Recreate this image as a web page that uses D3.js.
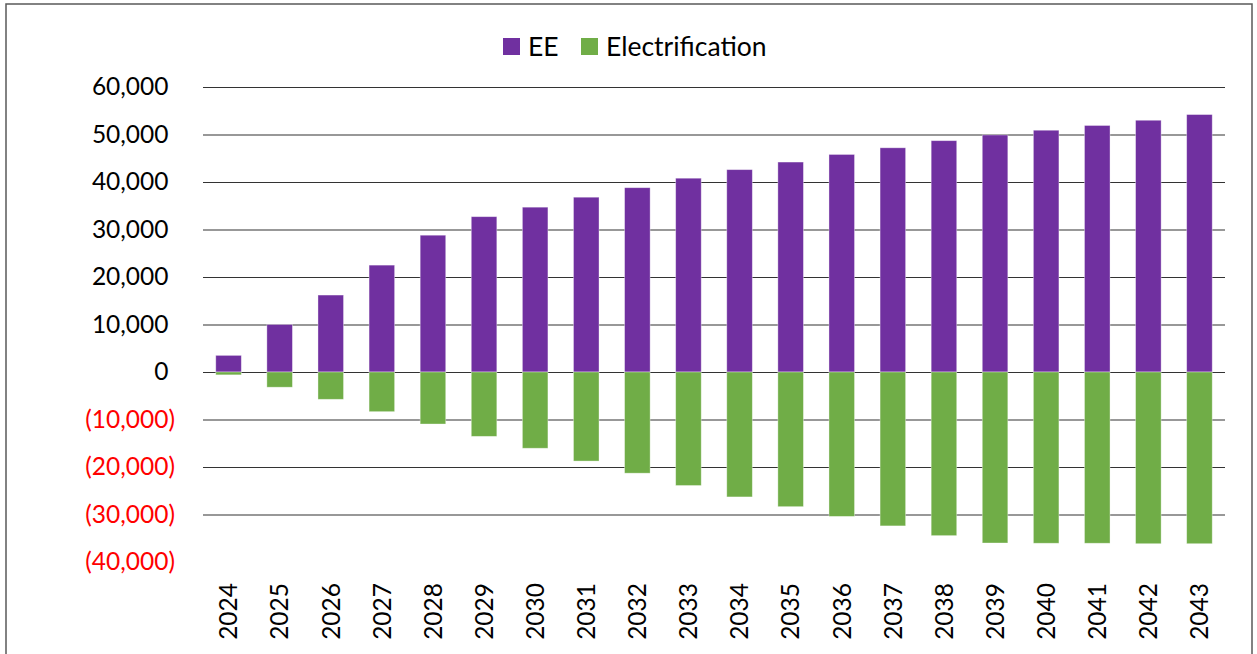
<!DOCTYPE html>
<html>
<head>
<meta charset="utf-8">
<script src="https://cdn.jsdelivr.net/npm/d3@7/dist/d3.min.js"></script>
<style>
html,body{margin:0;padding:0;background:#fff;}
svg{display:block;font-family:Lato,"Open Sans",sans-serif;}
</style>
</head>
<body>
<svg id="chart" width="1257" height="654"></svg>
<script>
const years = ["2024","2025","2026","2027","2028","2029","2030","2031","2032","2033","2034","2035","2036","2037","2038","2039","2040","2041","2042","2043"];
const eeValues = [3500,10000,16200,22500,28800,32700,34700,36800,38800,40800,42600,44200,45800,47200,48700,49900,50900,51900,53000,54200];
const electrificationValues = [-600,-3200,-5750,-8350,-10950,-13550,-16050,-18750,-21300,-23900,-26300,-28350,-30400,-32400,-34450,-36000,-36050,-36050,-36150,-36150];
const yTicks = [60000,50000,40000,30000,20000,10000,0,-10000,-20000,-30000,-40000];
const seriesNames = ["EE","Electrification"];
const seriesColors = ["#7030A0","#70AD47"];

(function(){
const svg = d3.select("#chart");
const pLeft = 203, pRight = 1225, pTop = 87, pBottom = 562;

// frame
svg.append("rect").attr("x",6).attr("y",4).attr("width",1246).attr("height",660)
  .attr("fill","none").attr("stroke","#595959").attr("stroke-width",1.5);

const x = d3.scaleBand().domain(years).range([pLeft,pRight]).paddingInner(0.5).paddingOuter(0.25);
const y = d3.scaleLinear().domain([-40000,60000]).range([pBottom,pTop]);

// y axis with gridlines
const fmt = v => v < 0 ? "(" + d3.format(",")(-v) + ")" : d3.format(",")(v);
const yAxis = svg.append("g").attr("transform",`translate(${pLeft},0)`)
  .call(d3.axisLeft(y).tickValues(yTicks).tickSize(-(pRight-pLeft)).tickPadding(28).tickFormat(fmt));
yAxis.select(".domain").remove();
yAxis.selectAll(".tick line").attr("stroke","#333").attr("stroke-width",1.2)
  .attr("opacity", d => d === -40000 ? 0 : 1);
yAxis.selectAll(".tick text")
  .attr("font-size",24.5).attr("font-family","Lato")
  .attr("fill", d => d < 0 ? "#FF0000" : "#000")
  .attr("dx", d => d < 0 ? 0 : -6.5);

// bars
const g = svg.append("g");
g.selectAll("rect.ee").data(years).enter().append("rect").attr("class","ee")
  .attr("x", d => x(d)).attr("width", x.bandwidth())
  .attr("y", (d,i) => y(eeValues[i])).attr("height", (d,i) => y(0) - y(eeValues[i]))
  .attr("fill", seriesColors[0]).attr("stroke","#fff").attr("stroke-opacity",0.45).attr("stroke-width",0.8);
g.selectAll("rect.el").data(years).enter().append("rect").attr("class","el")
  .attr("x", d => x(d)).attr("width", x.bandwidth())
  .attr("y", y(0)).attr("height", (d,i) => y(electrificationValues[i]) - y(0))
  .attr("fill", seriesColors[1]).attr("stroke","#fff").attr("stroke-opacity",0.45).attr("stroke-width",0.8);

// x axis labels
const xAxis = svg.append("g").attr("transform",`translate(0,583)`)
  .call(d3.axisBottom(x).tickSize(0).tickPadding(0));
xAxis.select(".domain").remove();
xAxis.selectAll(".tick text")
  .attr("font-size",24.5).attr("font-family","Lato").attr("fill","#000")
  .attr("transform","rotate(-90)").attr("text-anchor","end")
  .attr("x",0).attr("y",0).attr("dy","0.36em");

// legend
const legendItems = [{x:503, tx:528},{x:581, tx:606}];
const lg = svg.append("g");
seriesNames.forEach((n,i) => {
  lg.append("rect").attr("x",legendItems[i].x).attr("y",38).attr("width",17).attr("height",17).attr("fill",seriesColors[i]);
  lg.append("text").attr("x",legendItems[i].tx).attr("y",46.5).attr("dy","0.36em")
    .attr("font-size",26.5).attr("font-family","Lato").attr("fill","#000").text(n);
});
})();
</script>
</body>
</html>
